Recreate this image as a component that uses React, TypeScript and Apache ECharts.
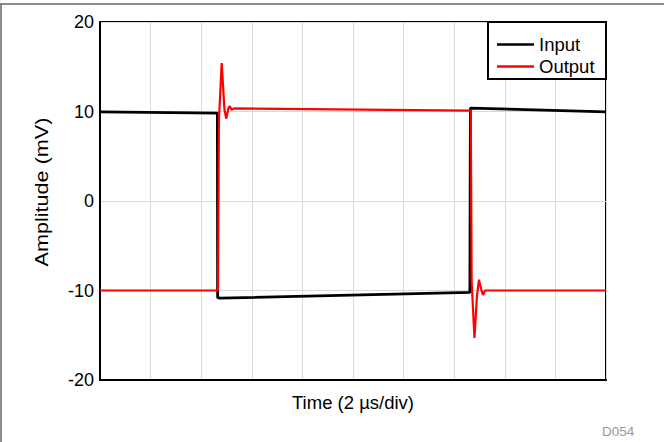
import React, { useEffect, useRef } from "react";
import * as echarts from "echarts";

// Time in µs (2 µs/div, 10 divisions), amplitude in mV
const inputT = [0, 4.64, 4.65, 4.75, 14.62, 14.64, 20];
const inputV = [9.95, 9.82, -10.8, -10.85, -10.22, 10.38, 9.95];

const outputT = [0, 4.665, 4.7, 4.81, 4.92, 4.99, 5.07, 5.13, 5.2, 5.3, 14.655, 14.69, 14.8, 14.9, 14.98, 15.06, 15.14, 15.22, 20];
const outputV = [-10.0, -10.0, 9.0, 15.4, 10.2, 9.2, 10.3, 10.6, 10.2, 10.35, 10.1, -9.0, -15.3, -10.6, -8.8, -9.8, -10.5, -10.0, -10.0];

const yTicks = [-20, -10, 0, 10, 20];
const seriesNames = ["Input", "Output"];
const xTitle = "Time (2 µs/div)";
const yTitle = "Amplitude (mV)";
const codeLabel = "D054";

const FONT = "'Liberation Sans', Arial, sans-serif";

export default function App() {
  const ref = useRef<HTMLDivElement>(null);
  useEffect(() => {
    if (!ref.current) return;
    const chart = echarts.init(ref.current, undefined, { renderer: "svg" });
    const inputData = inputT.map((t, i) => [t, inputV[i]]);
    const outputData = outputT.map((t, i) => [t, outputV[i]]);
    chart.setOption({
      animation: false,
      backgroundColor: "#fff",
      textStyle: { fontFamily: FONT },
      grid: {
        left: 100,
        top: 22,
        width: 506,
        height: 358,
        show: true,
        borderColor: "#000",
        borderWidth: 2,
        backgroundColor: "transparent",
      },
      xAxis: {
        type: "value",
        min: 0,
        max: 20,
        interval: 2,
        name: xTitle,
        nameLocation: "middle",
        nameGap: 13,
        nameTextStyle: { fontSize: 18.5, color: "#000", fontFamily: FONT },
        axisLine: { show: true, onZero: false, lineStyle: { color: "#000", width: 2 } },
        axisTick: { show: false },
        axisLabel: { show: false },
        splitLine: { show: true, lineStyle: { color: "#d9d9d9", width: 1 } },
      },
      yAxis: {
        type: "value",
        min: yTicks[0],
        max: yTicks[yTicks.length - 1],
        interval: 10,
        axisLine: { show: true, onZero: false, lineStyle: { color: "#000", width: 2 } },
        axisTick: { show: false },
        axisLabel: { fontSize: 18, color: "#000", margin: 6, fontFamily: FONT },
        splitLine: { show: true, lineStyle: { color: "#d9d9d9", width: 1 } },
      },
      legend: {
        left: 497,
        top: 35,
        orient: "vertical",
        itemWidth: 37,
        itemHeight: 2.5,
        itemGap: 3,
        itemTextGap: 15,
        padding: 0,
        data: seriesNames.map((n) => ({ name: n, icon: "rect" })),
        textStyle: { fontSize: 18.5, color: "#000", lineHeight: 18, fontFamily: FONT },
      },
      graphic: [
        {
          type: "rect",
          z: 3,
          shape: { x: 488, y: 22, width: 118, height: 57 },
          style: { fill: "#fff", stroke: "#000", lineWidth: 2 },
        },
        {
          type: "line",
          shape: { x1: 0, y1: 4, x2: 664, y2: 4 },
          style: { stroke: "#666", lineWidth: 1.5 },
        },
        {
          type: "line",
          shape: { x1: 1, y1: 4, x2: 1, y2: 442 },
          style: { stroke: "#666", lineWidth: 1.5 },
        },
        {
          type: "text",
          x: 42,
          y: 192,
          rotation: Math.PI / 2,
          scaleX: 1.2,
          style: {
            text: yTitle,
            fontSize: 18,
            fill: "#000",
            align: "center",
            verticalAlign: "middle",
            fontFamily: FONT,
          },
        },
        {
          type: "text",
          x: 602,
          y: 424,
          style: { text: codeLabel, fontSize: 13.5, fill: "#999", fontFamily: FONT },
        },
      ],
      series: [
        {
          name: seriesNames[0],
          type: "line",
          data: inputData,
          showSymbol: false,
          symbol: "none",
          lineStyle: { color: "#000", width: 2.8 },
          itemStyle: { color: "#000" },
          z: 2,
        },
        {
          name: seriesNames[1],
          type: "line",
          data: outputData,
          showSymbol: false,
          symbol: "none",
          lineStyle: { color: "#ff0000", width: 2.2 },
          itemStyle: { color: "#ff0000" },
          z: 2,
        },
      ],
    });
    return () => chart.dispose();
  }, []);
  return (
    <div
      ref={ref}
      style={{ position: "fixed", left: 0, top: 0, width: 664, height: 442 }}
    />
  );
}
